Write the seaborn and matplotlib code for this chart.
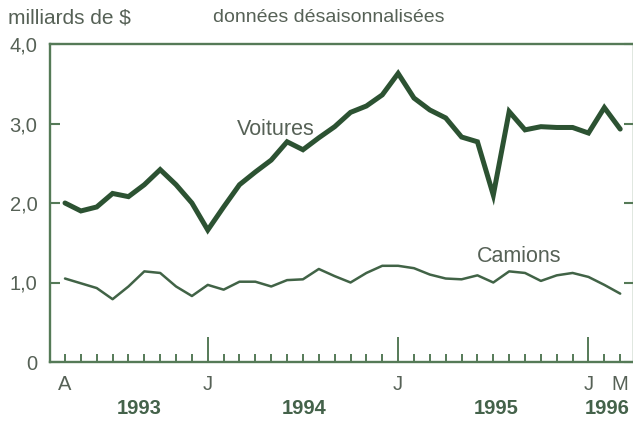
import numpy as np
import pandas as pd
import matplotlib
matplotlib.use("Agg")
import matplotlib.pyplot as plt
import seaborn as sns

# Monthly data, April 1993 .. March 1996 (billions of $)
months = pd.period_range("1993-04", "1996-03", freq="M").astype(str).tolist()
voitures = [2.00, 1.90, 1.95, 2.12, 2.08, 2.23, 2.42, 2.23, 2.00,
            1.66, 1.95, 2.23, 2.39, 2.54, 2.77, 2.67, 2.82, 2.96,
            3.14, 3.22, 3.36, 3.63, 3.32, 3.17, 3.07, 2.83, 2.77,
            2.10, 3.15, 2.92, 2.96, 2.95, 2.95, 2.88, 3.20, 2.93]
camions = [1.05, 0.99, 0.93, 0.79, 0.95, 1.14, 1.12, 0.95, 0.83,
           0.97, 0.91, 1.01, 1.01, 0.95, 1.03, 1.04, 1.17, 1.08,
           1.00, 1.12, 1.21, 1.21, 1.18, 1.10, 1.05, 1.04, 1.09,
           1.00, 1.14, 1.12, 1.02, 1.09, 1.12, 1.07, 0.97, 0.86]
month_labels = {0: "A", 9: "J", 21: "J", 33: "J", 35: "M"}
year_labels = ["1993", "1994", "1995", "1996"]
year_pos = [4.7, 15.1, 27.2, 34.2]
y_ticks = [0, 1, 2, 3, 4]
y_ticklabels = ["0", "1,0", "2,0", "3,0", "4,0"]

sns.set_theme(style="white")
plt.rcParams["font.family"] = ["Liberation Sans", "DejaVu Sans"]

LINE = "#2c5232"
SPINE = "#557a57"
TEXT = "#566156"
YEAR = "#44624a"

df = pd.DataFrame({"i": np.arange(len(months)), "Voitures": voitures, "Camions": camions})

fig = plt.figure(figsize=(6.33, 4.47), dpi=100)
ax = fig.add_axes([50 / 633, 85 / 447, 584 / 633, 318 / 447])

sns.lineplot(data=df, x="i", y="Voitures", ax=ax, color=LINE, lw=3.6,
             solid_joinstyle="miter")
sns.lineplot(data=df, x="i", y="Camions", ax=ax, color=LINE, lw=1.8, alpha=0.9)

ax.set_xlim(-0.946, 35.87)
ax.set_ylim(0, 4)
ax.set_xlabel("")
ax.set_ylabel("")

for s in ax.spines.values():
    s.set_color(SPINE)
    s.set_linewidth(1.7)

# y ticks (inward, both sides)
ax.set_yticks(y_ticks)
ax.set_yticklabels(y_ticklabels)
ax.tick_params(axis="y", which="major", direction="in", length=7, width=1.5,
               color=SPINE, left=True, right=True, labelsize=14.5,
               labelcolor=TEXT, pad=9)

# x ticks: every month small, January long
ax.set_xticks([i for i in range(len(months)) if months[i].endswith("-01")])
ax.set_xticks([i for i in range(len(months)) if not months[i].endswith("-01")], minor=True)
ax.set_xticklabels([])
ax.tick_params(axis="x", which="major", direction="in", length=18, width=1.4,
               color=SPINE, bottom=True)
ax.tick_params(axis="x", which="minor", direction="in", length=6, width=1.4,
               color=SPINE, bottom=True)

for i, lab in month_labels.items():
    ax.text(i, -0.28, lab, ha="center", va="center", fontsize=14.5, color=TEXT)
for p, lab in zip(year_pos, year_labels):
    ax.text(p, -0.59, lab, ha="center", va="center", fontsize=14.5,
            color=YEAR, fontweight="bold")

ax.text(13.3, 2.93, "Voitures", ha="center", va="center", fontsize=15.5, color=TEXT)
ax.text(28.6, 1.33, "Camions", ha="center", va="center", fontsize=15.5, color=TEXT)

fig.text(8 / 633, 1 - 18 / 447, "milliards de $", ha="left", va="center",
         fontsize=15, color=TEXT)
fig.text(213 / 633, 1 - 18 / 447, "données désaisonnalisées", ha="left",
         va="center", fontsize=14, color=TEXT)

fig.savefig("out.png", dpi=100, facecolor="white")
